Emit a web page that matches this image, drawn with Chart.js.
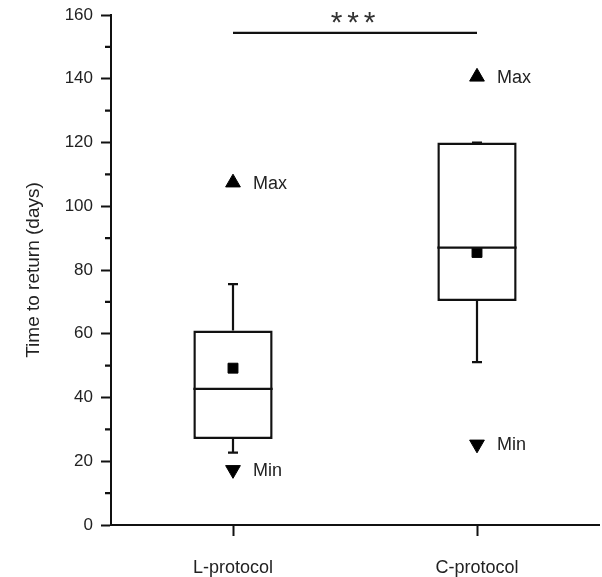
<!DOCTYPE html>
<html>
<head>
<meta charset="utf-8">
<script src="https://cdn.jsdelivr.net/npm/chart.js@4"></script>
<style>
  html, body { margin: 0; padding: 0; background: #fff; }
  #wrap { width: 602px; height: 577px; }
</style>
</head>
<body>
<div id="wrap"><canvas id="chart" width="602" height="577"></canvas></div>
<script>
// box plot values
const groups = ['L-protocol', 'C-protocol'];
const q1 = [27, 70.3];
const q3 = [61, 120];
const medians = [42.7, 87];
const whiskerLow = [22.7, 51.1];
const whiskerHigh = [75.6, 120];
const means = [49.2, 85.5];
const maxVals = [107.4, 140.6];
const minVals = [17.3, 25.3];
const sigLevel = 154.4;
const sigText = '***';

const ink = '#111';
const font = 'Liberation Sans, Arial, sans-serif';

// whiskers, medians, minor ticks, max/min labels and the significance bar
const boxExtras = {
  id: 'boxExtras',
  afterDatasetsDraw(chart) {
    const ctx = chart.ctx;
    const x = chart.scales.x, y = chart.scales.y;
    const boxMeta = chart.getDatasetMeta(0);
    ctx.save();
    ctx.strokeStyle = ink;
    ctx.lineWidth = 2.2;
    groups.forEach((g, i) => {
      const cx = x.getPixelForValue(i);
      const bar = boxMeta.data[i];
      const half = bar.width / 2;
      // median
      let py = y.getPixelForValue(medians[i]);
      ctx.beginPath();
      ctx.moveTo(cx - half, py);
      ctx.lineTo(cx + half, py);
      ctx.stroke();
      // whiskers
      const top = y.getPixelForValue(q3[i]), bot = y.getPixelForValue(q1[i]);
      const wh = y.getPixelForValue(whiskerHigh[i]), wl = y.getPixelForValue(whiskerLow[i]);
      ctx.beginPath();
      ctx.moveTo(cx, top); ctx.lineTo(cx, wh);
      ctx.moveTo(cx - 5, wh); ctx.lineTo(cx + 5, wh);
      ctx.moveTo(cx, bot); ctx.lineTo(cx, wl);
      ctx.moveTo(cx - 5, wl); ctx.lineTo(cx + 5, wl);
      ctx.stroke();
      // Max / Min labels
      ctx.fillStyle = '#222';
      ctx.font = '18px ' + font;
      ctx.textBaseline = 'middle';
      ctx.textAlign = 'left';
      ctx.fillText('Max', cx + 20, y.getPixelForValue(maxVals[i]) + 1);
      ctx.fillText('Min', cx + 20, y.getPixelForValue(minVals[i]) + 1);
    });
    // significance bar
    const sy = y.getPixelForValue(sigLevel);
    const x0 = x.getPixelForValue(0), x1 = x.getPixelForValue(1);
    ctx.beginPath();
    ctx.moveTo(x0, sy); ctx.lineTo(x1, sy);
    ctx.stroke();
    ctx.font = '30px ' + font;
    ctx.textAlign = 'center';
    ctx.textBaseline = 'alphabetic';
    ctx.fillStyle = '#333';
    const mid = (x0 + x1) / 2;
    [...sigText].forEach((c, k) => {
      ctx.fillText(c, mid - 2 + (k - 1) * 16.5, sy - 1);
    });
    // minor ticks on the y axis
    ctx.beginPath();
    for (let v = 10; v < 160; v += 20) {
      const ty = y.getPixelForValue(v);
      ctx.moveTo(y.right - 6, ty); ctx.lineTo(y.right, ty);
    }
    ctx.stroke();
    ctx.restore();
  }
};

new Chart(document.getElementById('chart'), {
  type: 'bar',
  data: {
    labels: groups,
    datasets: [
      {
        label: 'box',
        data: groups.map((g, i) => [q1[i], q3[i]]),
        backgroundColor: '#fff',
        borderColor: ink,
        borderWidth: 2.5,
        borderSkipped: false,
        barPercentage: 0.325,
        categoryPercentage: 1,
        order: 10
      },
      {
        label: 'mean',
        type: 'line',
        data: means,
        showLine: false,
        pointStyle: 'rect',
        pointRadius: 7,
        pointBackgroundColor: '#000',
        pointBorderColor: '#000',
        pointBorderWidth: 1,
        order: 1
      },
      {
        label: 'max',
        type: 'line',
        data: maxVals,
        showLine: false,
        pointStyle: 'triangle',
        pointRadius: 8.5,
        pointBackgroundColor: '#000',
        pointBorderColor: '#000',
        pointBorderWidth: 1,
        order: 1
      },
      {
        label: 'min',
        type: 'line',
        data: minVals,
        showLine: false,
        pointStyle: 'triangle',
        pointRotation: 180,
        pointRadius: 8.5,
        pointBackgroundColor: '#000',
        pointBorderColor: '#000',
        pointBorderWidth: 1,
        order: 1
      }
    ]
  },
  options: {
    responsive: false,
    animation: false,
    layout: { autoPadding: false, padding: { top: 15, right: 3, left: 0, bottom: 0 } },
    plugins: {
      legend: { display: false },
      tooltip: { enabled: false }
    },
    scales: {
      x: {
        offset: true,
        grid: { display: true, drawOnChartArea: false, tickLength: 11, tickWidth: 2, tickColor: ink, offset: false },
        border: { color: ink, width: 2 },
        ticks: { color: '#222', font: { family: font, size: 18 }, padding: 21 },
        afterFit(scale) { scale.height = 52; }
      },
      y: {
        min: 0,
        max: 160,
        grid: { drawOnChartArea: false, tickLength: 10, tickWidth: 2, tickColor: ink },
        border: { color: ink, width: 2 },
        ticks: { stepSize: 20, color: '#222', font: { family: font, size: 17, lineHeight: 1 }, padding: 8 },
        title: {
          display: true,
          text: 'Time to return (days)',
          color: '#222',
          font: { family: font, size: 19 },
          padding: { top: 22, bottom: 0 }
        },
        afterFit(scale) {
          scale.width = 111;
          scale.paddingTop = 0;
          scale.paddingBottom = 0;
        }
      }
    }
  },
  plugins: [boxExtras]
});
</script>
</body>
</html>
